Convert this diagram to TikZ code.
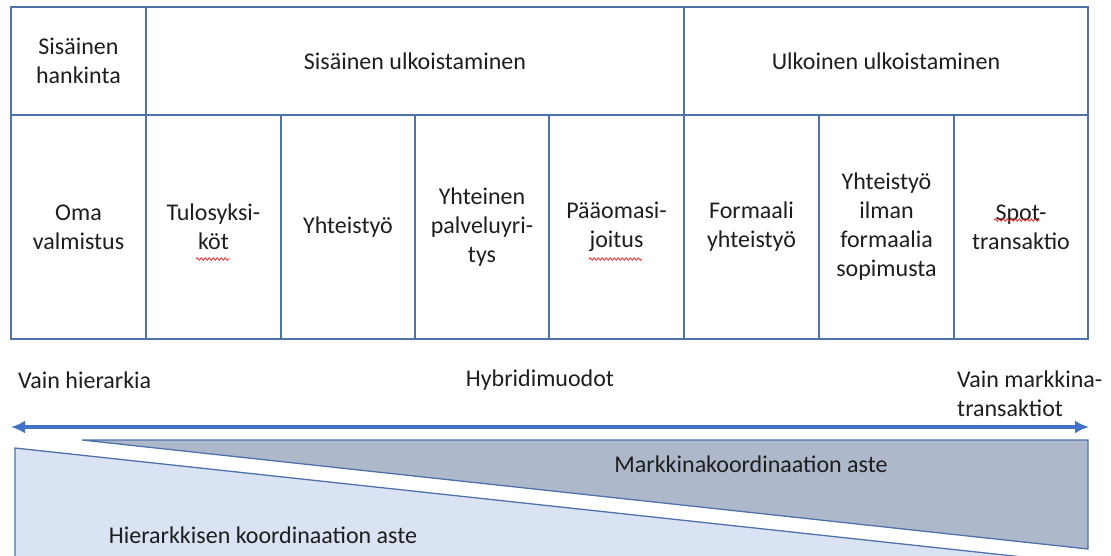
\documentclass[tikz,border=0pt]{standalone}
\usepackage{fontspec}
\setmainfont{Carlito}
\usetikzlibrary{arrows.meta,decorations.pathmorphing}
\definecolor{gridline}{RGB}{79,113,172}
\definecolor{arrowblue}{RGB}{68,114,196}
\definecolor{darkfill}{RGB}{173,185,202}
\definecolor{lightfill}{RGB}{218,227,243}
\definecolor{txt}{RGB}{30,30,30}
\definecolor{spell}{RGB}{230,40,40}
\tikzset{
  cell/.style={draw=gridline, line width=1.3pt, rectangle, inner sep=0pt, align=center,
    text=txt, font=\fontsize{24}{29}\selectfont},
  lbl/.style={inner sep=0pt, text=txt, font=\fontsize{24}{29}\selectfont},
  spellmark/.style={draw=spell, line width=0.8pt,
    decorate, decoration={snake, amplitude=1.2pt, segment length=4pt}},
  wedge/.style={draw=gridline, line width=1.3pt},
}
\begin{document}
\begin{tikzpicture}[x=1pt,y=-1pt]
\useasboundingbox (0,0) rectangle (1111,556);
\clip (0,0) rectangle (1111,556);

% header row
\node[cell, minimum width=135pt, minimum height=108pt] (h1) at (78.5,61) {Sisäinen\\hankinta};
\node[cell, minimum width=538pt, minimum height=108pt] (h2) at (415,61) {Sisäinen ulkoistaminen};
\node[cell, minimum width=404pt, minimum height=108pt] (h3) at (886,61) {Ulkoinen ulkoistaminen};

% second row
\node[cell, minimum width=135pt, minimum height=224pt] (c1) at (78.5,227) {Oma\\valmistus};
\node[cell, minimum width=135pt, minimum height=224pt] (c2) at (213.5,227) {Tulosyksi-\\köt};
\node[cell, minimum width=134pt, minimum height=224pt] (c3) at (348,227) {Yhteistyö};
\node[cell, minimum width=134pt, minimum height=224pt] (c4) at (482,227) {Yhteinen\\palveluyri-\\tys};
\node[cell, minimum width=135pt, minimum height=224pt] (c5) at (616.5,227) {Pääomasi-\\joitus};
\node[cell, minimum width=135pt, minimum height=224pt] (c6) at (751.5,227) {Formaali\\yhteistyö};
\node[cell, minimum width=135pt, minimum height=224pt] (c7) at (886.5,227) {Yhteistyö\\ilman\\formaalia\\sopimusta};
\node[cell, minimum width=134pt, minimum height=224pt] (c8) at (1021,227) {Spot-\\transaktio};

% spell-check marks
\draw[spellmark] (196,259) -- (230,259);
\draw[spellmark] (589,259) -- (642,259);
\draw[spellmark] (994,220) -- (1040,220);

% scale labels
\node[lbl, anchor=west] (vh) at (18,380) {Vain hierarkia};
\node[lbl] (hy) at (540,380) {Hybridimuodot};
\node[lbl, anchor=west, align=left] (vm) at (957,394) {Vain markkina-\\transaktiot};

% double arrow
\coordinate (aL) at (11,427);
\coordinate (aR) at (1089,427);
\draw[arrowblue, line width=3.5pt, {Latex[length=14pt,width=13pt]}-{Latex[length=14pt,width=13pt]}] (aL) -- (aR);

% light wedge (hierarchical coordination)
\fill[lightfill] (15,448) -- (1012,556) -- (15,556) -- cycle;
\draw[wedge] (15,558) -- (15,448) -- (1032,558);
% dark wedge (market coordination)
\filldraw[wedge, fill=darkfill] (82,440) -- (1088,440) -- (1088,549) -- cycle;

\node[lbl] (mk) at (751,464) {Markkinakoordinaation aste};
\node[lbl] (hk) at (263,535) {Hierarkkisen koordinaation aste};
\end{tikzpicture}
\end{document}
